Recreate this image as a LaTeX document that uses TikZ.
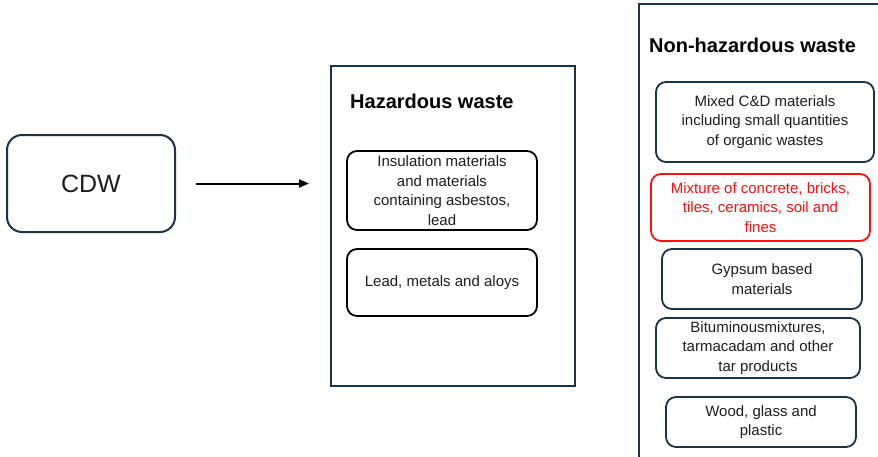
\documentclass[tikz,border=0pt]{standalone}
\usepackage{fontspec}
\setmainfont{Liberation Sans}
\usetikzlibrary{arrows.meta}
\definecolor{navy}{HTML}{1A3447}
\definecolor{alertred}{HTML}{FF1010}
\definecolor{ink}{HTML}{1E1E1E}
\tikzset{
  x=1pt, y=-1pt,
  frame/.style={draw=navy, line width=2pt, outer sep=0pt},
  itembox/.style={draw=#1, line width=1.8pt, rounded corners=10pt, align=center,
    font=\fontsize{15}{19.5}\selectfont, text=ink, inner sep=0pt, outer sep=0pt},
  itembox/.default=black,
  heading/.style={anchor=west, font=\fontsize{20}{24}\bfseries\selectfont, inner sep=0pt},
}
\begin{document}
\begin{tikzpicture}
\useasboundingbox (0,0) rectangle (878,456);
\fill[white] (0,0) rectangle (878,456);

% source
\node[frame, rounded corners=15pt, minimum width=168pt, minimum height=97pt,
      font=\fontsize{25}{30}\selectfont, text=ink] (cdw) at (91,183.5) {CDW};

% hazardous group
\node[frame, minimum width=244pt, minimum height=320pt] (haz) at (453,226) {};
\node[heading] (hazt) at (350,101) {Hazardous waste};
\node[itembox, minimum width=190pt, minimum height=79pt] (h1) at (442,190.5)
  {Insulation materials\\and materials\\containing asbestos,\\lead};
\node[itembox, minimum width=190pt, minimum height=67pt] (h2) at (442,282.5)
  {Lead, metals and aloys};

\draw[-{Triangle[length=10pt,width=8pt]}, line width=2pt, shorten <=21pt, shorten >=22pt]
  (cdw.east) -- (cdw.east -| haz.west);

% non-hazardous group, running past the page edge
\begin{scope}
\clip (0,0) rectangle (878,456);
\node[frame, minimum width=260pt, minimum height=470pt] (nonhaz) at (769,239) {};
\end{scope}
\node[heading] (nonhazt) at (649,45) {Non-hazardous waste};
\node[itembox=navy, minimum width=218pt, minimum height=80pt] (n1) at (765,122)
  {Mixed C\&D materials\\including small quantities\\of organic wastes};
\node[itembox=alertred, text=alertred, minimum width=219pt, minimum height=67pt] (n2) at (760.5,207.5)
  {Mixture of concrete, bricks,\\tiles, ceramics, soil and\\fines};
\node[itembox=navy, minimum width=200pt, minimum height=60pt] (n3) at (762,279)
  {Gypsum based\\materials};
\node[itembox=navy, minimum width=204pt, minimum height=60pt] (n4) at (758,348)
  {Bituminousmixtures,\\tarmacadam and other\\tar products};
\node[itembox=navy, minimum width=190pt, minimum height=50pt] (n5) at (761,422)
  {Wood, glass and\\plastic};
\end{tikzpicture}
\end{document}
